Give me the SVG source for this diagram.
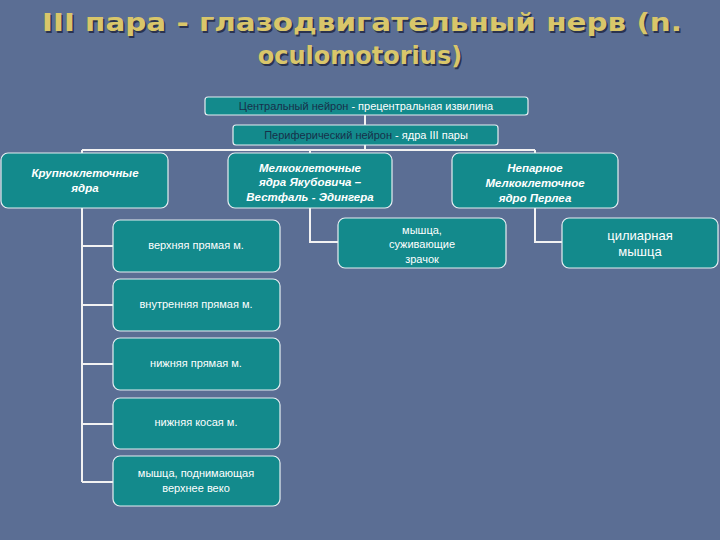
<svg xmlns="http://www.w3.org/2000/svg" width="720" height="540" viewBox="0 0 720 540">
<style>
.b{fill:#138a8c;stroke:#e6eef2;stroke-width:1.2}
.t{font-family:"Liberation Sans",Arial,sans-serif;fill:#fff;text-anchor:middle;font-size:11px}
.i{font-style:italic;font-weight:bold;font-size:11.5px}
.c{fill:none;stroke:#f2f2f2;stroke-width:2}
.h{font-family:"DejaVu Sans",Verdana,sans-serif;font-weight:bold;font-size:24px;fill:#d9c66a;text-anchor:middle}
</style>
<rect width="720" height="540" fill="#5b6e94"/>
<g id="title">
<text class="h" x="362" y="31" style="fill:#2a3350" dx="1.5" dy="1.5" textLength="640" lengthAdjust="spacingAndGlyphs">III пара - глазодвигательный нерв (n.</text>
<text class="h" x="360" y="64" style="fill:#2a3350" dx="1.5" dy="1.5">oculomotorius)</text>
<text class="h" x="362" y="31" textLength="640" lengthAdjust="spacingAndGlyphs">III пара - глазодвигательный нерв (n.</text>
<text class="h" x="360" y="64">oculomotorius)</text>
</g>
<g id="connectors">
<path class="c" d="M365 115V125M365 145V150M82 150H535M82 150V153M310 150V153M535 150V153M82 208V482M82 246H113M82 305H113M82 364H113M82 424H113M82 482H113M310 208V242H338M535 208V242H562"/>
</g>
<g id="central"><rect class="b" x="205" y="97" width="323" height="18" rx="3"/><text class="t" x="366" y="110"><tspan fill="#17304a">Центральный нейрон</tspan> - прецентральная извилина</text></g>
<g id="peripheral"><rect class="b" x="233" y="125" width="265" height="20" rx="3"/><text class="t" x="366" y="139"><tspan fill="#17304a">Периферический нейрон</tspan> - ядра III пары</text></g>
<g id="krupno"><rect class="b" x="1" y="153" width="167" height="55" rx="7"/><text class="t i" x="85" y="177">Крупноклеточные</text><text class="t i" x="85" y="192">ядра</text></g>
<g id="melko"><rect class="b" x="228" y="153" width="164" height="55" rx="7"/><text class="t i" x="310" y="172">Мелкоклеточные</text><text class="t i" x="310" y="186">ядра Якубовича –</text><text class="t i" x="310" y="201">Вестфаль - Эдингера</text></g>
<g id="neparnoe"><rect class="b" x="452" y="153" width="166" height="55" rx="7"/><text class="t i" x="535" y="172">Непарное</text><text class="t i" x="535" y="187">Мелкоклеточное</text><text class="t i" x="535" y="202">ядро Перлеа</text></g>
<g id="m1"><rect class="b" x="113" y="220" width="167" height="52" rx="7"/><text class="t" x="196" y="249">верхняя прямая м.</text></g>
<g id="m2"><rect class="b" x="113" y="279" width="167" height="52" rx="7"/><text class="t" x="196" y="308">внутренняя прямая м.</text></g>
<g id="m3"><rect class="b" x="113" y="338" width="167" height="52" rx="7"/><text class="t" x="196" y="367">нижняя прямая м.</text></g>
<g id="m4"><rect class="b" x="113" y="398" width="167" height="51" rx="7"/><text class="t" x="196" y="426">нижняя косая м.</text></g>
<g id="m5"><rect class="b" x="113" y="456" width="167" height="50" rx="7"/><text class="t" x="196" y="477">мышца, поднимающая</text><text class="t" x="196" y="492">верхнее веко</text></g>
<g id="zrachok"><rect class="b" x="338" y="218" width="168" height="50" rx="7"/><text class="t" x="422" y="234">мышца,</text><text class="t" x="422" y="248">суживающие</text><text class="t" x="422" y="263">зрачок</text></g>
<g id="ciliar"><rect class="b" x="562" y="218" width="156" height="50" rx="7"/><text class="t" x="640" y="240" style="font-size:13px">цилиарная</text><text class="t" x="640" y="256" style="font-size:13px">мышца</text></g>
</svg>
